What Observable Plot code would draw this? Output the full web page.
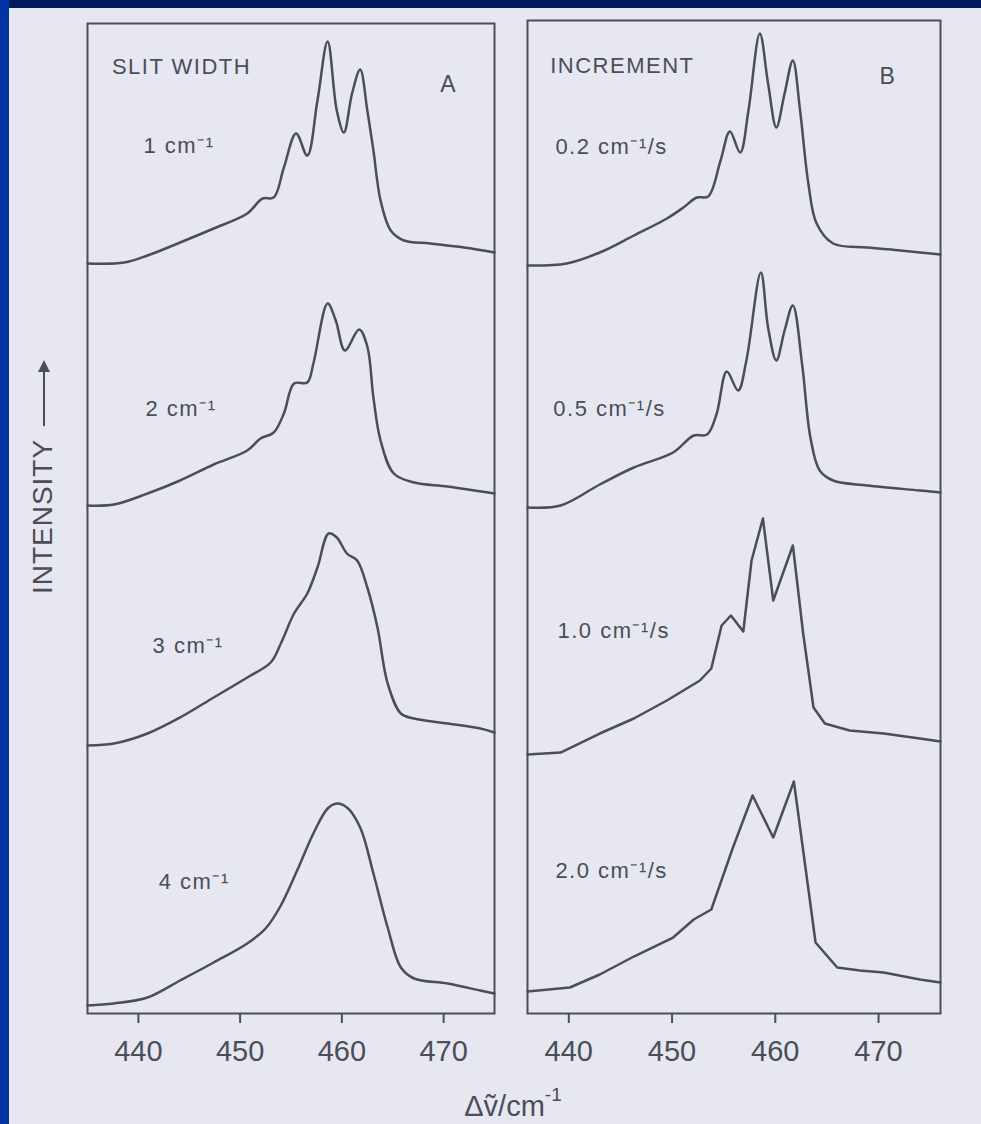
<!DOCTYPE html>
<html><head><meta charset="utf-8">
<script src="https://cdn.jsdelivr.net/npm/d3@7"></script>
<script src="https://cdn.jsdelivr.net/npm/@observablehq/plot@0.6"></script>
<style>
body{margin:0;background:#e6e7f1;}
#page{position:relative;width:981px;height:1124px;background:#e6e7f1;overflow:hidden;font-family:"Liberation Sans",Arial,Helvetica,sans-serif;color:#4b4d57;}
.abs{position:absolute;}
</style></head><body>
<div id="page">
  <div class="abs" id="panelA" style="left:0;top:0"></div>
  <div class="abs" id="panelB" style="left:500px;top:0"></div>
  <div class="abs" id="ylab" style="left:43px;top:478px;transform:translate(-50%,-50%) rotate(-90deg);white-space:nowrap;font-size:28px;letter-spacing:1px;line-height:28px;display:flex;align-items:center;">
    <span>INTENSITY</span><span style="display:inline-block;position:relative;width:64px;height:2px;background:#4b4d57;margin-left:13px;top:1px;"><span style="position:absolute;right:-2px;top:-5px;width:0;height:0;border-left:12px solid #4b4d57;border-top:6px solid transparent;border-bottom:6px solid transparent;"></span></span>
  </div>
  <div class="abs" id="xlab" style="left:513px;top:1092px;transform:translateX(-50%);font-size:29px;line-height:29px;white-space:nowrap;">Δṽ/cm<span style="position:relative;top:-15px;font-size:19px;">-1</span></div>
  <div class="abs" style="left:0;top:0;width:981px;height:8px;background:#001c5c"></div>
  <div class="abs" style="left:0;top:0;width:9px;height:1124px;background:#0034a3"></div>
</div>
<script>
const INK = "#4b4d57";
const FONT = '"Liberation Sans", Arial, Helvetica, sans-serif';
const xTicks = [440, 450, 460, 470];

// ---------- Panel A : slit width ----------
const slitTitle = "SLIT WIDTH";
const slitNames = ["1 cm⁻¹", "2 cm⁻¹", "3 cm⁻¹", "4 cm⁻¹"];
const slitOffsets = [75.0, 50.8, 26.8, 0.8];

const slit1_x = [435.0, 438.6, 440.9, 444.1, 447.4, 450.7, 452.2, 453.3, 454.3, 455.5, 456.6, 457.6, 458.6, 459.5, 460.2, 461.0, 461.8, 462.5, 463.1, 463.8, 464.8, 466.1, 468.7, 472.0, 475.0];
const slit1_i = [0.0, 0.1, 0.8, 2.1, 3.5, 5.0, 6.5, 6.6, 9.6, 13.0, 10.8, 16.3, 22.2, 15.3, 13.1, 17.0, 19.4, 15.3, 11.3, 6.3, 3.3, 2.3, 2.0, 1.6, 1.1];

const slit2_x = [435.0, 437.6, 440.9, 444.1, 447.4, 450.7, 452.0, 453.3, 454.3, 455.3, 456.6, 457.2, 458.6, 459.4, 460.3, 461.7, 462.5, 463.1, 463.8, 465.1, 467.1, 470.4, 475.0];
const slit2_i = [0.0, 0.1, 1.2, 2.5, 4.1, 5.5, 6.7, 7.3, 9.2, 12.2, 12.3, 14.2, 20.2, 18.5, 15.5, 17.6, 15.9, 10.8, 6.5, 3.2, 2.3, 1.9, 1.2];

const slit3_x = [435.0, 437.6, 440.9, 444.1, 447.4, 450.7, 453.0, 454.0, 455.3, 456.6, 457.6, 458.7, 459.5, 460.5, 461.5, 462.5, 463.5, 464.5, 465.8, 467.1, 470.4, 473.6, 475.0];
const slit3_i = [0.0, 0.2, 1.2, 2.8, 4.8, 6.8, 8.3, 10.2, 13.2, 15.2, 17.8, 21.2, 20.8, 19.2, 18.5, 15.8, 11.8, 6.2, 3.2, 2.7, 2.2, 1.7, 1.3];

const slit4_x = [435.0, 437.6, 440.9, 444.1, 447.4, 450.7, 452.5, 454.0, 455.6, 457.2, 458.6, 459.5, 460.5, 461.8, 463.1, 464.5, 465.8, 467.1, 470.4, 473.6, 475.0];
const slit4_i = [0.0, 0.2, 0.8, 2.5, 4.3, 6.2, 7.7, 10.0, 13.5, 17.2, 19.7, 20.2, 19.8, 17.8, 13.2, 7.8, 3.8, 2.7, 2.2, 1.5, 1.2];

// ---------- Panel B : scan increment ----------
const incTitle = "INCREMENT";
const incNames = ["0.2 cm⁻¹/s", "0.5 cm⁻¹/s", "1.0 cm⁻¹/s", "2.0 cm⁻¹/s"];
const incOffsets = [74.8, 50.6, 25.9, 2.2];

const inc1_x = [436.0, 439.8, 443.0, 446.3, 449.5, 451.1, 452.4, 453.5, 454.7, 455.6, 456.6, 457.4, 458.5, 459.3, 460.1, 460.9, 461.7, 462.4, 463.2, 464.0, 465.6, 468.9, 472.1, 474.0, 476.0];
const inc1_i = [0.0, 0.2, 1.3, 3.0, 4.7, 5.8, 6.8, 6.9, 10.5, 13.4, 11.3, 15.5, 23.2, 18.2, 13.8, 17.2, 20.5, 15.5, 8.2, 4.2, 2.2, 1.8, 1.5, 1.3, 1.1];

const inc2_x = [436.0, 439.2, 443.0, 446.3, 450.1, 452.1, 453.4, 454.3, 455.3, 456.4, 457.2, 458.6, 459.3, 460.1, 460.9, 461.7, 462.6, 463.4, 464.3, 465.6, 468.9, 474.0, 476.0];
const inc2_i = [0.0, 0.2, 2.3, 4.0, 5.5, 7.2, 7.3, 9.3, 13.6, 11.7, 14.7, 23.5, 18.0, 14.7, 17.7, 20.2, 14.3, 7.0, 3.7, 2.7, 2.2, 1.7, 1.5];

const inc3_x = [436.0, 439.2, 443.0, 446.3, 449.5, 452.7, 453.8, 454.8, 455.7, 456.9, 457.7, 458.8, 459.8, 461.7, 462.7, 463.7, 464.8, 467.2, 470.5, 474.0, 476.0];
const inc3_i = [0.0, 0.2, 2.1, 3.6, 5.4, 7.4, 8.6, 12.9, 13.9, 12.3, 19.4, 23.6, 15.4, 20.9, 12.1, 4.7, 3.1, 2.4, 2.1, 1.6, 1.3];

const inc4_x = [436.0, 440.1, 443.0, 446.3, 450.1, 452.1, 453.8, 455.9, 457.8, 459.8, 461.8, 463.9, 466.0, 468.2, 470.5, 474.0, 476.0];
const inc4_i = [0.0, 0.4, 1.7, 3.5, 5.4, 7.2, 8.2, 14.4, 19.6, 15.4, 21.0, 4.9, 2.4, 2.1, 1.9, 1.2, 0.9];

// label anchors (data coordinates)
const slitLabelX = [440.5, 440.7, 441.4, 442.0];
const slitLabelY = [86.1, 59.8, 36.1, 12.5];
const incLabelX = [438.7, 438.5, 438.9, 438.7];
const incLabelY = [86.0, 59.8, 37.6, 13.6];

function buildRows(xsList, isList, offsets, names) {
  const out = [];
  xsList.forEach((xs, k) => xs.forEach((x, j) => out.push({series: names[k], x, y: offsets[k] + isList[k][j]})));
  return out;
}

const rowsA = buildRows([slit1_x, slit2_x, slit3_x, slit4_x], [slit1_i, slit2_i, slit3_i, slit4_i], slitOffsets, slitNames);
const rowsB = buildRows([inc1_x, inc2_x, inc3_x, inc4_x], [inc1_i, inc2_i, inc3_i, inc4_i], incOffsets, incNames);

const lineStyle = {x: "x", y: "y", z: "series", stroke: INK, strokeWidth: 2.5, strokeLinejoin: "round", strokeLinecap: "round"};
const LABEL_FS = 22;

function axis() {
  return Plot.axisX({ticks: xTicks, tickSize: 10, tickPadding: 17, fontSize: 29, strokeWidth: 2, label: null, tickFormat: d => String(d), stroke: INK, fill: INK});
}

const plotA = Plot.plot({
  width: 510, height: 1124,
  marginLeft: 87, marginRight: 16, marginTop: 23, marginBottom: 111,
  x: {domain: [435, 475]},
  y: {domain: [0, 99], axis: null},
  style: {background: "transparent", color: INK, fontFamily: FONT, overflow: "visible"},
  marks: [
    Plot.frame({stroke: INK, strokeWidth: 2}),
    axis(),
    Plot.line(rowsA, {...lineStyle, curve: "catmull-rom"}),
    Plot.text([slitTitle], {x: 437.4, y: 94.0, text: d => d, textAnchor: "start", lineAnchor: "top", dy: -0.71 * LABEL_FS, fontSize: LABEL_FS, fill: INK}),
    Plot.text(["A"], {x: 470.5, y: 92.2, text: d => d, textAnchor: "middle", lineAnchor: "top", dy: -0.71 * 23, fontSize: 23, fill: INK}),
    Plot.text(slitNames, {x: slitLabelX, y: slitLabelY, text: d => d, textAnchor: "start", lineAnchor: "top", dy: -0.71 * LABEL_FS, fontSize: LABEL_FS, fill: INK})
  ]
});

const plotB = Plot.plot({
  width: 481, height: 1124,
  marginLeft: 27, marginRight: 41, marginTop: 20, marginBottom: 111,
  x: {domain: [436, 476]},
  y: {domain: [0, 99.3], axis: null},
  style: {background: "transparent", color: INK, fontFamily: FONT, overflow: "visible"},
  marks: [
    Plot.frame({stroke: INK, strokeWidth: 2}),
    axis(),
    Plot.line(rowsB.filter(d => d.series === incNames[0] || d.series === incNames[1]), {...lineStyle, curve: "catmull-rom"}),
    Plot.line(rowsB.filter(d => d.series === incNames[2] || d.series === incNames[3]), {...lineStyle, curve: "linear"}),
    Plot.text([incTitle], {x: 438.2, y: 94.1, text: d => d, textAnchor: "start", lineAnchor: "top", dy: -0.71 * LABEL_FS, fontSize: LABEL_FS, fill: INK}),
    Plot.text(["B"], {x: 470.9, y: 93.0, text: d => d, textAnchor: "middle", lineAnchor: "top", dy: -0.71 * 23, fontSize: 23, fill: INK}),
    Plot.text(incNames, {x: incLabelX, y: incLabelY, text: d => d, textAnchor: "start", lineAnchor: "top", dy: -0.71 * LABEL_FS, fontSize: LABEL_FS, fill: INK})
  ]
});

for (const svg of [plotA, plotB]) {
  svg.querySelectorAll('g[aria-label="text"]').forEach(g => g.setAttribute("letter-spacing", "1.5"));
}

document.getElementById("panelA").appendChild(plotA);
document.getElementById("panelB").appendChild(plotB);
</script>
</body></html>
